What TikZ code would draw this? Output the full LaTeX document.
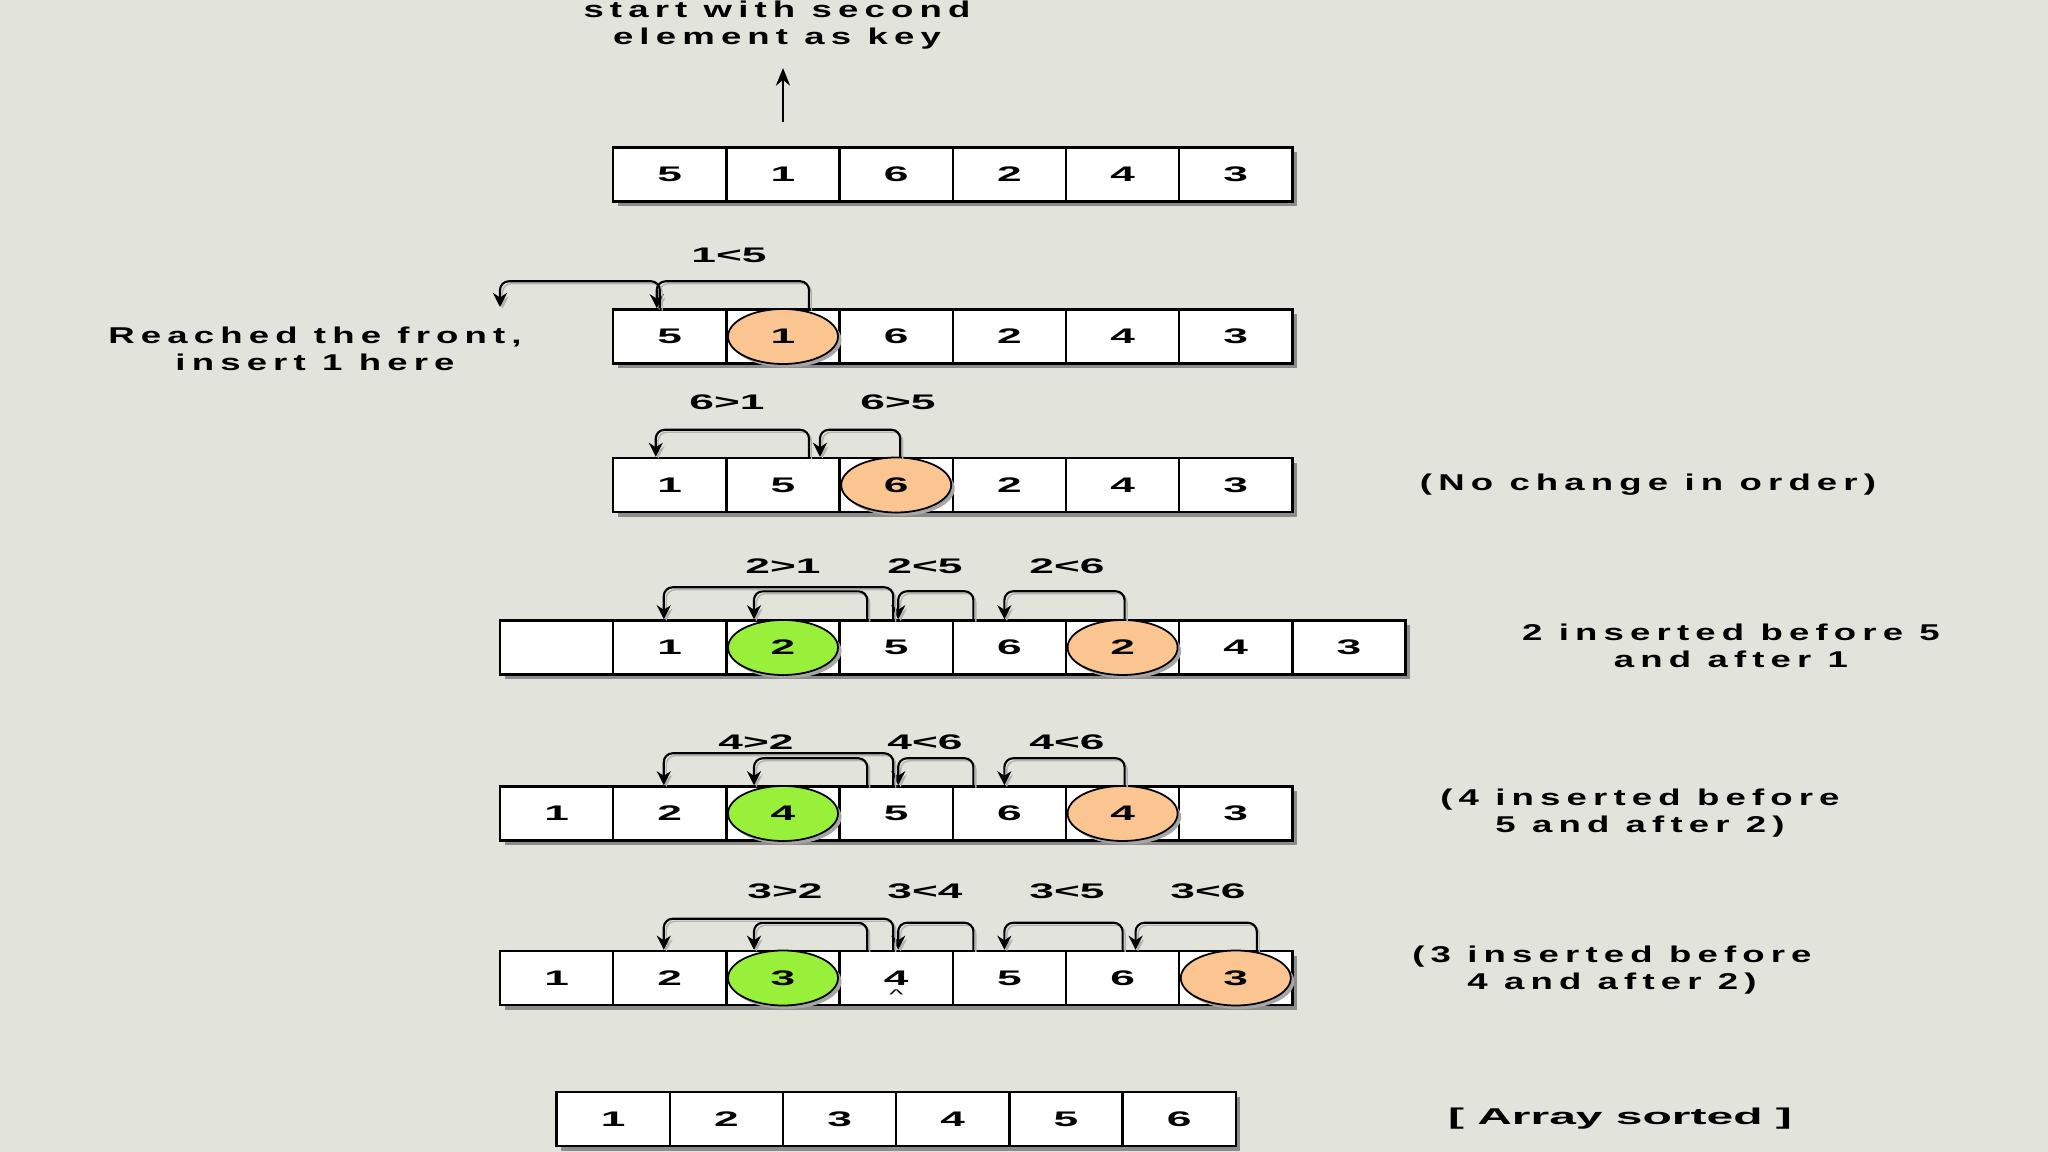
\documentclass[tikz,border=0pt]{standalone}
\usepackage{fontspec}
\setmainfont{Liberation Sans}
\newfontfamily\numfamily[FakeStretch=2.1]{Liberation Sans}
\newfontfamily\notefamily[FakeStretch=1.6,LetterSpace=27]{Liberation Sans}
\newcommand{\numfont}{\numfamily\bfseries\fontsize{6}{7}\selectfont}
\newcommand{\notefont}{\notefamily\bfseries\fontsize{6.5}{7.65}\selectfont}
\usetikzlibrary{arrows.meta,shapes.geometric,shadows}
\definecolor{bgcol}{HTML}{E2E4DC}
\definecolor{keyorange}{HTML}{FAC590}
\definecolor{keygreen}{HTML}{99F03A}
\begin{document}
\begin{tikzpicture}[
            cell/.style={
                    draw,
                    fill=white,
                    line width=0.7pt,
                    minimum width=1.132cm,
                    minimum height=0.54cm,
                    inner sep=0pt,
                    font=\numfont,
                    drop shadow={shadow xshift=1.3pt, shadow yshift=-1.3pt, fill=black!45, opacity=1}
                },
            keyold/.style={
                    ellipse,
                    draw,
                    fill=keyorange,
                    line width=0.5pt,
                    minimum width=1.10cm,
                    minimum height=0.55cm,
                    inner sep=0pt,
                    font=\numfont,
                    drop shadow={shadow xshift=1pt, shadow yshift=-1pt, fill=black!35, opacity=1}
                },
            keynew/.style={
                    keyold,
                    fill=keygreen
                },
            cmp/.style={
                    draw,
                    line width=0.6pt,
                    rounded corners=2.5pt,
                    -{Stealth[length=4pt,width=4pt]},
                    preaction={draw=black!30, transform canvas={shift={(0.7pt,-0.7pt)}}}
                },
            cmplabel/.style={
                    font=\numfont,
                    inner sep=1pt
                },
            note/.style={
                    font=\notefont,
                    align=center,
                    inner sep=1pt
                }
        ]

        \useasboundingbox (0,0) rectangle (20.48,-11.52);
        \fill[bgcol] (0,0) rectangle (20.48,-11.52);

        % start
        \node[note] (keynote) at (7.77,-0.255) {start with second\\element as key};
        \node[cell] (r0c1) at (6.698,-1.745) {5};
        \node[cell] (r0c2) at (7.830,-1.745) {1};
        \node[cell] (r0c3) at (8.962,-1.745) {6};
        \node[cell] (r0c4) at (10.094,-1.745) {2};
        \node[cell] (r0c5) at (11.226,-1.745) {4};
        \node[cell] (r0c6) at (12.358,-1.745) {3};
        \coordinate (keytip) at (7.830,-0.68);
        \draw[line width=0.8pt, -{Stealth[length=5pt,width=4pt]}, shorten <=0.24cm] (r0c2.north) -- (keytip);

        % key 1
        \node[cell] (r1c1) at (6.698,-3.365) {5};
        \node[cell] (r1c2) at (7.830,-3.365) {};
        \node[cell] (r1c3) at (8.962,-3.365) {6};
        \node[cell] (r1c4) at (10.094,-3.365) {2};
        \node[cell] (r1c5) at (11.226,-3.365) {4};
        \node[cell] (r1c6) at (12.358,-3.365) {3};
        \node[keyold] (r1key) at (r1c2) {1};
        \node[cmplabel] (r1l1) at (7.29,-2.55) {1<5};
        \node[note] (frontnote) at (3.15,-3.49) {Reached the front,\\insert 1 here};
        \coordinate (front) at (5.00,-3.07);
        \draw[cmp] ([xshift=0.26cm]r1c2.north) -- ++(0,0.27) -| ([xshift=-0.13cm]r1c1.north);
        \draw[cmp] ([xshift=-0.10cm]r1c1.north) -- ++(0,0.27) -| (front);

        % key 6
        \node[cell] (r2c1) at (6.698,-4.85) {1};
        \node[cell] (r2c2) at (7.830,-4.85) {5};
        \node[cell] (r2c3) at (8.962,-4.85) {};
        \node[cell] (r2c4) at (10.094,-4.85) {2};
        \node[cell] (r2c5) at (11.226,-4.85) {4};
        \node[cell] (r2c6) at (12.358,-4.85) {3};
        \node[keyold] (r2key) at (r2c3) {6};
        \node[cmplabel] (r2l1) at (7.27,-4.02) {6>1};
        \node[cmplabel] (r2l2) at (8.98,-4.02) {6>5};
        \node[note] (r2note) at (16.48,-4.85) {(No change in order)};
        \draw[cmp] ([xshift=0.04cm]r2c3.north) -- ++(0,0.27) -| ([xshift=0.37cm]r2c2.north);
        \draw[cmp] ([xshift=0.26cm]r2c2.north) -- ++(0,0.27) -| ([xshift=-0.14cm]r2c1.north);

        % key 2
        \node[cell] (r3c0) at (5.566,-6.475) {};
        \node[cell] (r3c1) at (6.698,-6.475) {1};
        \node[cell] (r3c2) at (7.830,-6.475) {};
        \node[cell] (r3c3) at (8.962,-6.475) {5};
        \node[cell] (r3c4) at (10.094,-6.475) {6};
        \node[cell] (r3c5) at (11.226,-6.475) {};
        \node[cell] (r3c6) at (12.358,-6.475) {4};
        \node[cell] (r3c7) at (13.490,-6.475) {3};
        \node[keynew] (r3ins) at (r3c2) {2};
        \node[keyold] (r3key) at (r3c5) {2};
        \node[cmplabel] (r3l1) at (7.83,-5.66) {2>1};
        \node[cmplabel] (r3l2) at (9.25,-5.66) {2<5};
        \node[cmplabel] (r3l3) at (10.67,-5.66) {2<6};
        \node[note] (r3note) at (17.31,-6.46) {2 inserted before 5\\and after 1};
        \draw[cmp] ([xshift=0.02cm]r3c5.north) -- ++(0,0.28) -| ([xshift=-0.05cm]r3c4.north);
        \draw[cmp] ([xshift=-0.36cm]r3c4.north) -- ++(0,0.28) -| ([xshift=0.02cm]r3c3.north);
        \draw[cmp] ([xshift=-0.29cm]r3c3.north) -- ++(0,0.28) -| ([xshift=-0.29cm]r3c2.north);
        \draw[cmp] ([xshift=-0.03cm]r3c3.north) -- ++(0,0.32) -| ([xshift=-0.06cm]r3c1.north);

        % key 4
        \node[cell] (r4c0) at (5.566,-8.135) {1};
        \node[cell] (r4c1) at (6.698,-8.135) {2};
        \node[cell] (r4c2) at (7.830,-8.135) {};
        \node[cell] (r4c3) at (8.962,-8.135) {5};
        \node[cell] (r4c4) at (10.094,-8.135) {6};
        \node[cell] (r4c5) at (11.226,-8.135) {};
        \node[cell] (r4c6) at (12.358,-8.135) {3};
        \node[keynew] (r4ins) at (r4c2) {4};
        \node[keyold] (r4key) at (r4c5) {4};
        \node[cmplabel] (r4l1) at (7.56,-7.42) {4>2};
        \node[cmplabel] (r4l2) at (9.25,-7.42) {4<6};
        \node[cmplabel] (r4l3) at (10.67,-7.42) {4<6};
        \node[note] (r4note) at (16.40,-8.13) {(4 inserted before\\5 and after 2)};
        \draw[cmp] ([xshift=0.02cm]r4c5.north) -- ++(0,0.27) -| ([xshift=-0.05cm]r4c4.north);
        \draw[cmp] ([xshift=-0.36cm]r4c4.north) -- ++(0,0.27) -| ([xshift=0.02cm]r4c3.north);
        \draw[cmp] ([xshift=-0.29cm]r4c3.north) -- ++(0,0.27) -| ([xshift=-0.29cm]r4c2.north);
        \draw[cmp] ([xshift=-0.03cm]r4c3.north) -- ++(0,0.32) -| ([xshift=-0.06cm]r4c1.north);

        % key 3
        \node[cell] (r5c0) at (5.566,-9.78) {1};
        \node[cell] (r5c1) at (6.698,-9.78) {2};
        \node[cell] (r5c2) at (7.830,-9.78) {};
        \node[cell] (r5c3) at (8.962,-9.78) {4};
        \node[cell] (r5c4) at (10.094,-9.78) {5};
        \node[cell] (r5c5) at (11.226,-9.78) {6};
        \node[cell] (r5c6) at (12.358,-9.78) {};
        \node[keynew] (r5ins) at (r5c2) {3};
        \node[keyold] (r5key) at (r5c6) {3};
        \node[font=\numfamily\fontsize{4}{4}\selectfont, inner sep=0pt] (caret) at (8.962,-9.95) {\textasciicircum};
        \node[cmplabel] (r5l1) at (7.85,-8.91) {3>2};
        \node[cmplabel] (r5l2) at (9.25,-8.91) {3<4};
        \node[cmplabel] (r5l3) at (10.67,-8.91) {3<5};
        \node[cmplabel] (r5l4) at (12.08,-8.91) {3<6};
        \node[note] (r5note) at (16.12,-9.70) {(3 inserted before\\4 and after 2)};
        \draw[cmp] ([xshift=0.21cm]r5c6.north) -- ++(0,0.27) -| ([xshift=0.13cm]r5c5.north);
        \draw[cmp] ([xshift=0.00cm]r5c5.north) -- ++(0,0.27) -| ([xshift=-0.05cm]r5c4.north);
        \draw[cmp] ([xshift=-0.36cm]r5c4.north) -- ++(0,0.27) -| ([xshift=0.02cm]r5c3.north);
        \draw[cmp] ([xshift=-0.29cm]r5c3.north) -- ++(0,0.27) -| ([xshift=-0.29cm]r5c2.north);
        \draw[cmp] ([xshift=-0.03cm]r5c3.north) -- ++(0,0.31) -| ([xshift=-0.06cm]r5c1.north);

        % sorted
        \node[cell] (r6c1) at (6.132,-11.19) {1};
        \node[cell] (r6c2) at (7.264,-11.19) {2};
        \node[cell] (r6c3) at (8.396,-11.19) {3};
        \node[cell] (r6c4) at (9.528,-11.19) {4};
        \node[cell] (r6c5) at (10.660,-11.19) {5};
        \node[cell] (r6c6) at (11.792,-11.19) {6};
        \node[font=\numfamily\bfseries\fontsize{6.5}{8}\selectfont] (r6note) at (16.20,-11.19) {[ Array sorted ]};

    \end{tikzpicture}
\end{document}
